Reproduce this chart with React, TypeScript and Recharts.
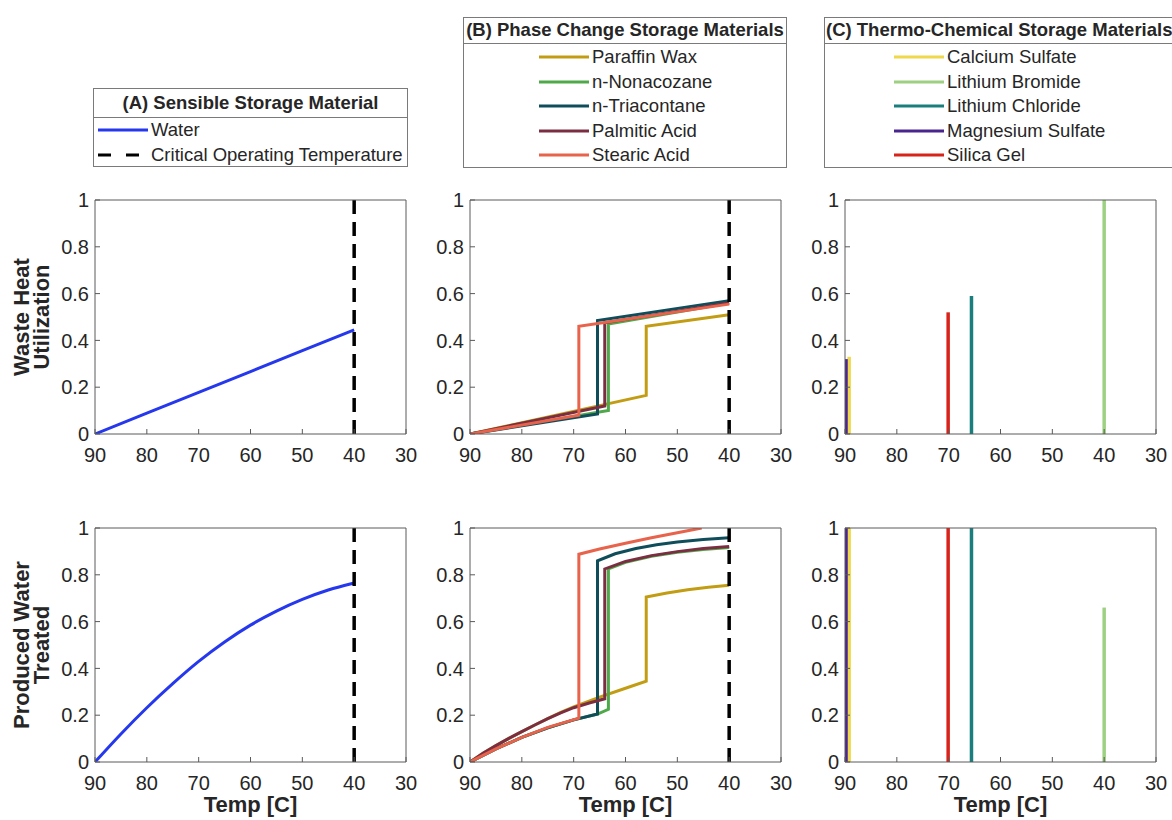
import React from 'react';
import { LineChart, Line, XAxis, YAxis, ReferenceLine } from 'recharts';

type Pair = [number, number];

const FONT = '"Liberation Sans", Arial, Helvetica, sans-serif';
const TEXT = '#262626';
const AXIS = '#5a5a5a';

const xTicks = [90, 80, 70, 60, 50, 40, 30];
const yTicks = [0, 0.2, 0.4, 0.6, 0.8, 1];
const criticalTemp = 40;

// (A) sensible storage - water
const waterColor = '#2538ee';
const waterHeat: Pair[] = [[90, 0], [80, 0.089], [70, 0.178], [60, 0.267], [50, 0.356], [40, 0.445]];
const waterTreated: Pair[] = [
  [90, 0], [85, 0.12], [80, 0.232], [75, 0.335], [70, 0.43], [65, 0.513],
  [60, 0.585], [55, 0.645], [50, 0.695], [45, 0.735], [40, 0.765],
];

// (B) phase change materials
const pcmNames = ['Paraffin Wax', 'n-Nonacozane', 'n-Triacontane', 'Palmitic Acid', 'Stearic Acid'];
const pcmColors = ['#c29d14', '#4fa94a', '#0f4d5b', '#7b2e42', '#e8634b'];

const paraffinHeat: Pair[] = [[90, 0], [56, 0.165], [56, 0.46], [40, 0.51]];
const nonacozaneHeat: Pair[] = [[90, 0], [63.3, 0.1], [63.3, 0.47], [40, 0.56]];
const triacontaneHeat: Pair[] = [[90, 0], [65.4, 0.086], [65.4, 0.485], [40, 0.57]];
const palmiticHeat: Pair[] = [[90, 0], [64, 0.12], [64, 0.475], [40, 0.56]];
const stearicHeat: Pair[] = [[90, 0], [69, 0.08], [69, 0.46], [40, 0.555]];

const paraffinTreated: Pair[] = [
  [90, 0], [87.5, 0.037], [85, 0.07], [82.5, 0.101], [80, 0.13], [77.5, 0.158], [75, 0.185], [72.5, 0.212],
  [70, 0.236], [65, 0.277], [60, 0.315], [56, 0.345],
  [56, 0.705], [52, 0.722], [48, 0.736], [44, 0.747], [40, 0.755],
];
const nonacozaneTreated: Pair[] = [
  [90, 0], [85, 0.056], [80, 0.105], [75, 0.146], [70, 0.18], [65.4, 0.205], [63.3, 0.225],
  [63.3, 0.825], [60, 0.853], [55, 0.879], [50, 0.896], [45, 0.908], [40, 0.917],
];
const triacontaneTreated: Pair[] = [
  [90, 0], [85, 0.056], [80, 0.105], [75, 0.146], [70, 0.18], [65.4, 0.205],
  [65.4, 0.86], [62, 0.89], [58, 0.912], [54, 0.928], [50, 0.94], [45, 0.951], [40, 0.958],
];
const palmiticTreated: Pair[] = [
  [90, 0], [87.5, 0.037], [85, 0.07], [82.5, 0.101], [80, 0.13], [77.5, 0.158], [75, 0.185], [72.5, 0.21],
  [70, 0.232], [67, 0.252], [64, 0.27],
  [64, 0.825], [60, 0.857], [55, 0.882], [50, 0.899], [45, 0.912], [40, 0.921],
];
const stearicTreated: Pair[] = [
  [90, 0], [85, 0.056], [80, 0.105], [75, 0.148], [69, 0.187],
  [69, 0.888], [65, 0.91], [60, 0.935], [55, 0.958], [50, 0.98], [45.3, 1.0],
];

const pcmHeat = [paraffinHeat, nonacozaneHeat, triacontaneHeat, palmiticHeat, stearicHeat];
const pcmTreated = [paraffinTreated, nonacozaneTreated, triacontaneTreated, palmiticTreated, stearicTreated];

// (C) thermo-chemical materials: a single stem each
const tcmNames = ['Calcium Sulfate', 'Lithium Bromide', 'Lithium Chloride', 'Magnesium Sulfate', 'Silica Gel'];
const tcmColors = ['#efd84a', '#9dd080', '#1a7f7c', '#4a2590', '#d8231a'];
const tcmTemps = [89.2, 40, 65.6, 89.8, 70.1];
const tcmHeat = [0.33, 1, 0.59, 0.32, 0.52];
const tcmTreated = [1, 0.66, 1, 1, 1];

type Pt = { t: number; v: number };
type Series = { name: string; color: string; width: number; curve: 'linear' | 'monotone'; data: Pt[] };

const toPts = (arr: Pair[]): Pt[] => arr.map(([t, v]) => ({ t, v }));
const stem = (t: number, h: number): Pt[] => [{ t, v: 0 }, { t, v: h }];

const PLOT_W = 311;
const PLOT_H = 234;
const colLeft = [95, 470, 845];
const rowTop = [200, 528];

const Panel = ({ left, top, series, critical }: { left: number; top: number; series: Series[]; critical: boolean }) => (
  <div style={{ position: 'absolute', left: left - 60, top: top - 10 }}>
    <LineChart
      width={60 + PLOT_W + 1 + 14}
      height={10 + PLOT_H + 30 + 10}
      margin={{ top: 9, right: 14, bottom: 10, left: 0 }}
    >
      <XAxis
        dataKey="t"
        type="number"
        domain={[30, 90]}
        ticks={xTicks}
        reversed
        allowDataOverflow
        interval={0}
        height={30}
        tickSize={-5}
        tickMargin={19}
        stroke={AXIS}
        tick={{ fontSize: 20, fill: TEXT, fontFamily: FONT }}
      />
      <XAxis
        xAxisId="top"
        orientation="top"
        dataKey="t"
        type="number"
        domain={[30, 90]}
        ticks={xTicks}
        reversed
        allowDataOverflow
        interval={0}
        height={1}
        tickSize={-5}
        tick={false}
        stroke={AXIS}
      />
      <YAxis
        type="number"
        domain={[0, 1]}
        ticks={yTicks}
        allowDataOverflow
        interval={0}
        width={60}
        tickSize={-5}
        tickMargin={11}
        stroke={AXIS}
        tick={{ fontSize: 20, fill: TEXT, fontFamily: FONT }}
      />
      <YAxis
        yAxisId="right"
        orientation="right"
        type="number"
        domain={[0, 1]}
        ticks={yTicks}
        interval={0}
        width={1}
        tickSize={-5}
        tick={false}
        stroke={AXIS}
      />
      {series.map((s) => (
        <Line
          key={s.name}
          data={s.data}
          dataKey="v"
          type={s.curve}
          stroke={s.color}
          strokeWidth={s.width}
          dot={false}
          activeDot={false}
          isAnimationActive={false}
        />
      ))}
      {critical && (
        <ReferenceLine x={criticalTemp} stroke="#000" strokeWidth={3.5} strokeDasharray="14 8" />
      )}
    </LineChart>
  </div>
);

const Sample = ({ color, dashed }: { color: string; dashed?: boolean }) => (
  <svg width={50} height={6} style={{ display: 'block' }}>
    <line x1={0} y1={3} x2={dashed ? 42 : 50} y2={3} stroke={color} strokeWidth={3} strokeDasharray={dashed ? '13 15' : undefined} />
  </svg>
);

type LegendItem = { name: string; color: string; dashed?: boolean };

const LegendBox = ({
  left, top, width, height, titleH, title, items, sampleLeft, textLeft, rowY0, rowStep, titleLeft,
}: {
  left: number; top: number; width: number; height: number; titleH: number; title: string;
  items: LegendItem[]; sampleLeft: number; textLeft: number; rowY0: number; rowStep: number; titleLeft?: number;
}) => (
  <>
    <div
      style={{
        position: 'absolute', left, top, width, height, border: '1px solid #7a7a7a',
        boxSizing: 'border-box', background: '#fff',
      }}
    />
    <div style={{ position: 'absolute', left, top: top + titleH, width, height: 1, background: '#7a7a7a' }} />
    <div
      style={{
        position: 'absolute', left: titleLeft ?? left, top, width: titleLeft ? undefined : width, height: titleH,
        lineHeight: `${titleH}px`, textAlign: titleLeft ? 'left' : 'center', fontFamily: FONT, fontWeight: 'bold',
        fontSize: 18.5, color: TEXT, whiteSpace: 'nowrap',
      }}
    >
      {title}
    </div>
    {items.map((it, i) => {
      const cy = rowY0 + i * rowStep;
      return (
        <React.Fragment key={it.name}>
          <div style={{ position: 'absolute', left: sampleLeft, top: cy - 3 }}>
            <Sample color={it.color} dashed={it.dashed} />
          </div>
          <div
            style={{
              position: 'absolute', left: textLeft, top: cy - 10, height: 20, lineHeight: '20px',
              fontFamily: FONT, fontSize: 18.5, color: TEXT, whiteSpace: 'nowrap',
            }}
          >
            {it.name}
          </div>
        </React.Fragment>
      );
    })}
  </>
);

const YLabel = ({ cy, lines }: { cy: number; lines: string[] }) => (
  <div
    style={{
      position: 'absolute', left: 32 - PLOT_H / 2, top: cy - 20, width: PLOT_H, height: 40,
      transform: 'rotate(-90deg)', textAlign: 'center', fontFamily: FONT, fontWeight: 'bold',
      fontSize: 22, lineHeight: '20px', color: TEXT, whiteSpace: 'nowrap',
    }}
  >
    {lines.map((l) => (
      <div key={l}>{l}</div>
    ))}
  </div>
);

const XLabel = ({ cx }: { cx: number }) => (
  <div
    style={{
      position: 'absolute', left: cx - 80, top: 794, width: 160, textAlign: 'center', fontFamily: FONT,
      fontWeight: 'bold', fontSize: 22, lineHeight: '22px', color: TEXT,
    }}
  >
    Temp [C]
  </div>
);

export default function App() {
  const waterSeriesHeat: Series[] = [{ name: 'Water', color: waterColor, width: 3, curve: 'linear', data: toPts(waterHeat) }];
  const waterSeriesTreated: Series[] = [{ name: 'Water', color: waterColor, width: 3, curve: 'monotone', data: toPts(waterTreated) }];
  const pcmSeriesHeat: Series[] = pcmNames.map((n, i) => ({ name: n, color: pcmColors[i], width: 3, curve: 'linear', data: toPts(pcmHeat[i]) }));
  const pcmSeriesTreated: Series[] = pcmNames.map((n, i) => ({ name: n, color: pcmColors[i], width: 3, curve: 'linear', data: toPts(pcmTreated[i]) }));
  const tcmSeriesHeat: Series[] = tcmNames.map((n, i) => ({ name: n, color: tcmColors[i], width: 3.5, curve: 'linear', data: stem(tcmTemps[i], tcmHeat[i]) }));
  const tcmSeriesTreated: Series[] = tcmNames.map((n, i) => ({ name: n, color: tcmColors[i], width: 3.5, curve: 'linear', data: stem(tcmTemps[i], tcmTreated[i]) }));

  return (
    <div style={{ position: 'absolute', left: 0, top: 0, width: 1172, height: 820, overflow: 'hidden', background: '#fff' }}>
      <LegendBox
        left={93} top={88} width={315} height={79} titleH={29} title="(A) Sensible Storage Material"
        items={[
          { name: 'Water', color: waterColor },
          { name: 'Critical Operating Temperature', color: '#000', dashed: true },
        ]}
        sampleLeft={98} textLeft={151} rowY0={130} rowStep={25}
      />
      <LegendBox
        left={463} top={17} width={324} height={151} titleH={26} title="(B) Phase Change Storage Materials"
        items={pcmNames.map((n, i) => ({ name: n, color: pcmColors[i] }))}
        sampleLeft={539} textLeft={592} rowY0={57} rowStep={24.5}
      />
      <LegendBox
        left={824} top={17} width={380} height={151} titleH={26} title="(C) Thermo-Chemical Storage Materials"
        titleLeft={826}
        items={tcmNames.map((n, i) => ({ name: n, color: tcmColors[i] }))}
        sampleLeft={894} textLeft={947} rowY0={57} rowStep={24.5}
      />

      <Panel left={colLeft[0]} top={rowTop[0]} series={waterSeriesHeat} critical />
      <Panel left={colLeft[1]} top={rowTop[0]} series={pcmSeriesHeat} critical />
      <Panel left={colLeft[2]} top={rowTop[0]} series={tcmSeriesHeat} critical={false} />
      <Panel left={colLeft[0]} top={rowTop[1]} series={waterSeriesTreated} critical />
      <Panel left={colLeft[1]} top={rowTop[1]} series={pcmSeriesTreated} critical />
      <Panel left={colLeft[2]} top={rowTop[1]} series={tcmSeriesTreated} critical={false} />

      <YLabel cy={rowTop[0] + PLOT_H / 2} lines={['Waste Heat', 'Utilization']} />
      <YLabel cy={rowTop[1] + PLOT_H / 2} lines={['Produced Water', 'Treated']} />
      {colLeft.map((l) => (
        <XLabel key={l} cx={l + PLOT_W / 2} />
      ))}
    </div>
  );
}
